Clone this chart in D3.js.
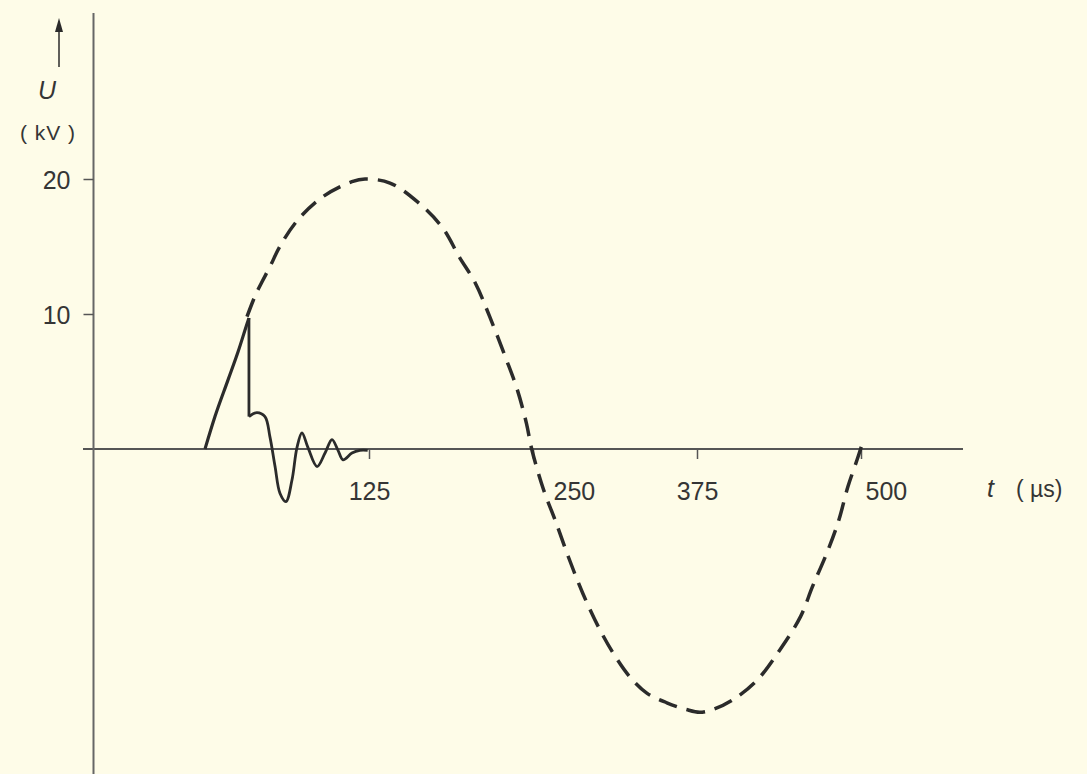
<!DOCTYPE html>
<html>
<head>
<meta charset="utf-8">
<script src="https://cdn.jsdelivr.net/npm/d3@7"></script>
<style>
  html, body { margin: 0; padding: 0; background: #fefce8; }
  svg { display: block; }
  text { font-family: "Liberation Sans", Arial, sans-serif; fill: #353535; }
</style>
</head>
<body>
<div id="chart"></div>
<script>
// tick labels
const xTicks = [125, 250, 375, 500];
const yTicks = [10, 20];

// dashed mains voltage (t in µs, U in kV)
const mainsT = [32, 38, 43, 50, 57, 71, 90, 112, 122, 141, 162, 181, 194, 206, 217, 229, 238, 245, 249,
                258, 267, 277, 288, 300, 311, 324, 337, 352, 367, 377, 387, 402, 421, 438, 454, 463, 474, 483, 490, 497, 501];
const mainsU = [9.8, 11.3, 12.3, 13.6, 15.0, 17.0, 18.7, 19.8, 20.0, 19.7, 18.3, 16.4, 14.2, 12.3, 9.8, 6.8, 4.4, 1.9, 0,
                -3.0, -5.3, -8.0, -10.7, -13.2, -15.1, -16.9, -18.1, -18.8, -19.3, -19.5, -19.3, -18.6, -17.1, -14.9, -12.4, -10.2, -7.7, -5.3, -2.8, -0.8, 0.4];

// solid transient: rise, chop, ringing
const riseT = [0, 7.6, 17.5, 25.2, 32.8, 33.5];
const riseU = [0, 2.4, 5.1, 7.2, 9.5, 9.7];
const chopT = [33.5, 33.5];
const chopU = [9.7, 2.4];
const ringT = [33.5, 39.6, 45.7, 49.5, 53.4, 57.2, 61.7, 66.3, 70.1, 73.9, 78.5, 85.4, 91.5, 96.8, 101.4, 105.2, 112, 118, 124];
const ringU = [2.4, 2.7, 2.4, 0.9, -1.3, -3.3, -3.9, -2.3, 0.1, 1.2, 0.1, -1.3, -0.3, 0.7, -0.1, -0.8, -0.3, -0.1, -0.1];

const W = 1087, H = 774;
const ink = "#2b2b2b";

const svg = d3.select("#chart")
    .append("svg")
    .attr("width", W)
    .attr("height", H);

// scales
const x = d3.scaleLinear().domain([0, 500]).range([205, 861]);
const y = d3.scaleLinear().domain([0, 20]).range([449, 179]);
const axisX = 93.5;   // pixel position of vertical axis

// x axis line
svg.append("line")
    .attr("x1", 83).attr("x2", 963)
    .attr("y1", y(0)).attr("y2", y(0))
    .style("stroke", "#555").style("stroke-width", 2);

// y axis line
svg.append("line")
    .attr("x1", axisX).attr("x2", axisX)
    .attr("y1", 13).attr("y2", H)
    .style("stroke", "#666").style("stroke-width", 2);

// x ticks + labels
const gx = svg.append("g")
    .attr("transform", `translate(0, ${y(0)})`)
    .call(d3.axisBottom(x).tickValues(xTicks).tickSize(10).tickPadding(29));
gx.select(".domain").remove();
gx.selectAll(".tick line").style("stroke", "#555").style("stroke-width", 1.5);
gx.selectAll(".tick text")
    .attr("dy", null)
    .style("font-size", "25px")
    .style("fill", "#353535")
    .attr("text-anchor", d => (d === 250 || d === 500) ? "start" : "middle")
    .attr("x", d => d === 250 ? 20 : d === 500 ? 4 : 0)
    .attr("y", 51);

// y ticks + labels
const gy = svg.append("g")
    .attr("transform", `translate(${axisX}, 0)`)
    .call(d3.axisLeft(y).tickValues(yTicks).tickSize(10).tickPadding(13));
gy.select(".domain").remove();
gy.selectAll(".tick line").style("stroke", "#555").style("stroke-width", 1.5);
gy.selectAll(".tick text")
    .style("font-size", "25px")
    .style("fill", "#353535")
    .attr("dy", "0.36em")
    .attr("x", -23);

// y axis arrow and title
svg.append("line")
    .attr("x1", 59).attr("x2", 59)
    .attr("y1", 67).attr("y2", 30)
    .style("stroke", ink).style("stroke-width", 1.5);
svg.append("path")
    .attr("d", "M59,18 L55,32 L63,32 Z")
    .style("fill", ink);
svg.append("text")
    .attr("x", 47).attr("y", 99)
    .attr("text-anchor", "middle")
    .style("font-size", "25px")
    .style("font-style", "italic")
    .text("U");
svg.append("text")
    .attr("x", 48).attr("y", 140)
    .attr("text-anchor", "middle")
    .style("font-size", "21px")
    .style("letter-spacing", "1px")
    .text("( kV )");

// x axis title
svg.append("text")
    .attr("x", 987).attr("y", 497)
    .style("font-size", "25px")
    .style("font-style", "italic")
    .text("t");
svg.append("text")
    .attr("x", 1016).attr("y", 497)
    .style("font-size", "23px")
    .text("( µs)");

// dashed mains curve
const mains = mainsT.map((t, i) => ({t: t, u: mainsU[i]}));
svg.append("path")
    .datum(mains)
    .attr("d", d3.line().x(d => x(d.t)).y(d => y(d.u)).curve(d3.curveCatmullRom))
    .style("fill", "none")
    .style("stroke", ink)
    .style("stroke-width", 3.5)
    .style("stroke-dasharray", "19,10");

// solid transient
const pts = (ts, us) => ts.map((t, i) => ({t: t, u: us[i]}));
svg.append("path")
    .datum(pts(riseT, riseU))
    .attr("d", d3.line().x(d => x(d.t)).y(d => y(d.u)).curve(d3.curveMonotoneX))
    .style("fill", "none").style("stroke", ink).style("stroke-width", 3.2);
svg.append("path")
    .datum(pts(chopT, chopU))
    .attr("d", d3.line().x(d => x(d.t)).y(d => y(d.u)))
    .style("fill", "none").style("stroke", ink).style("stroke-width", 2.8);
svg.append("path")
    .datum(pts(ringT, ringU))
    .attr("d", d3.line().x(d => x(d.t)).y(d => y(d.u)).curve(d3.curveCatmullRom))
    .style("fill", "none").style("stroke", ink).style("stroke-width", 2.8);
</script>
</body>
</html>
